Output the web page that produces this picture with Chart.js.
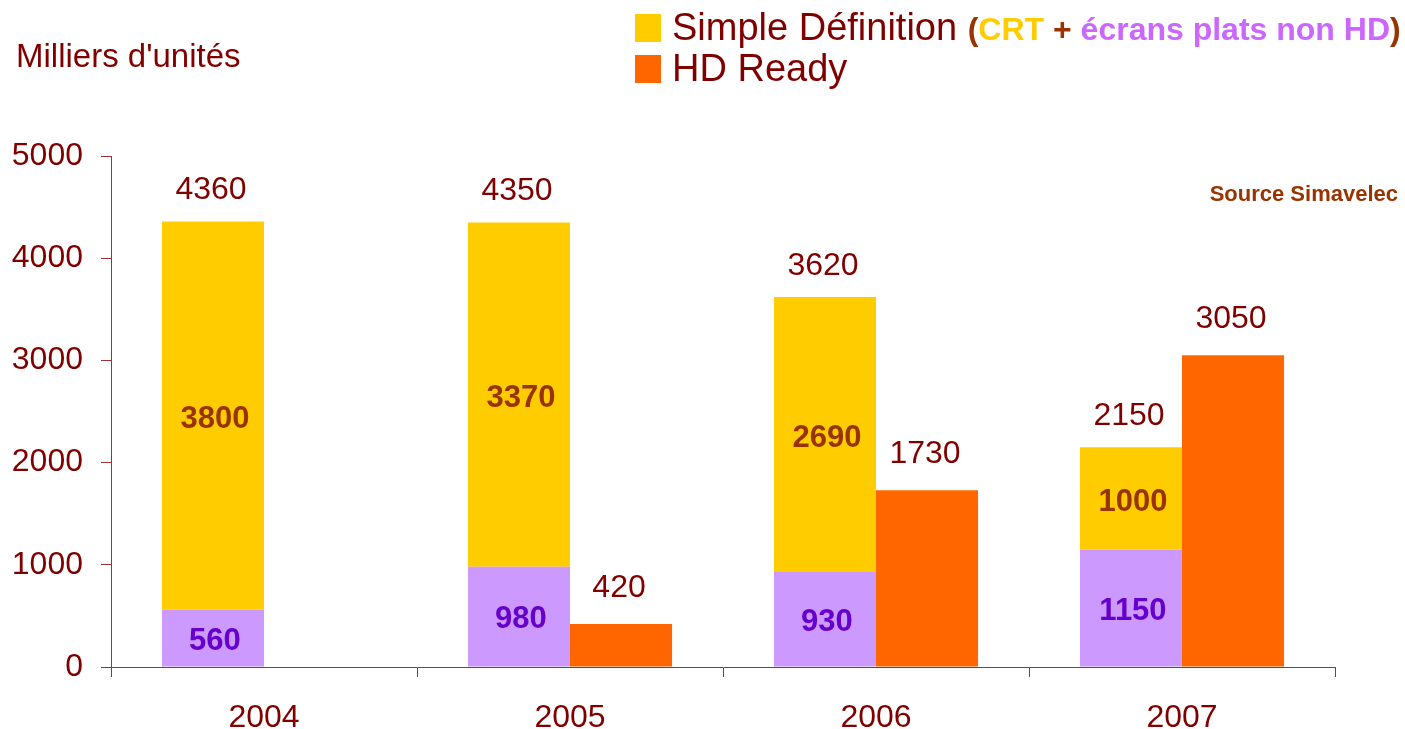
<!DOCTYPE html>
<html>
<head>
<meta charset="utf-8">
<script src="https://cdn.jsdelivr.net/npm/chart.js@4.4.0/dist/chart.umd.min.js"></script>
<style>
html,body{margin:0;padding:0;background:#fff;}
canvas{display:block;}
</style>
</head>
<body>
<canvas id="c" width="1405" height="729"></canvas>
<script>
const years = ['2004', '2005', '2006', '2007'];
const flatNonHD = [560, 980, 930, 1150];
const crt = [3800, 3370, 2690, 1000];
const hdReady = [null, 420, 1730, 3050];
const yTicks = [0, 1000, 2000, 3000, 4000, 5000];

const FONT = "'Liberation Sans', Arial, sans-serif";
const DARK = '#800000';
const AXIS = '#993333';

const labelsPlugin = {
  id: 'labelsPlugin',
  afterDatasetsDraw(chart) {
    const ctx = chart.ctx;
    const mP = chart.getDatasetMeta(0).data;
    const mY = chart.getDatasetMeta(1).data;
    const mH = chart.getDatasetMeta(2).data;
    ctx.save();
    ctx.textAlign = 'center';
    for (let i = 0; i < years.length; i++) {
      ctx.textBaseline = 'middle';
      const p = mP[i];
      ctx.font = 'bold 31px ' + FONT;
      ctx.fillStyle = '#6600CC';
      ctx.fillText(String(flatNonHD[i]), p.x + 2, (p.y + p.base) / 2 + 3);
      const y = mY[i];
      ctx.fillStyle = '#993300';
      ctx.fillText(String(crt[i]), y.x + 2, (y.y + y.base) / 2 + 4);
      ctx.font = '32px ' + FONT;
      ctx.fillStyle = DARK;
      ctx.textBaseline = 'alphabetic';
      ctx.fillText(String(flatNonHD[i] + crt[i]), y.x - 2, y.y - 22);
      if (hdReady[i] !== null) {
        const h = mH[i];
        ctx.fillText(String(hdReady[i]), h.x - 2, h.y - 27);
      }
    }
    ctx.restore();
  },
  afterDraw(chart) {
    const ctx = chart.ctx;
    ctx.save();
    ctx.textBaseline = 'alphabetic';
    ctx.textAlign = 'left';
    ctx.font = '33px ' + FONT;
    ctx.fillStyle = DARK;
    ctx.fillText("Milliers d'unités", 16, 67);
    ctx.fillStyle = '#FFCC00';
    ctx.fillRect(635, 14, 26, 28);
    ctx.fillStyle = '#FF6600';
    ctx.fillRect(635, 55, 26, 28);
    ctx.font = '38px ' + FONT;
    ctx.fillStyle = DARK;
    ctx.fillText('Simple Définition', 672, 40);
    ctx.fillText('HD Ready', 672, 81);
    let x = 672 + ctx.measureText('Simple Définition ').width;
    ctx.font = 'bold 32px ' + FONT;
    const parts = [['(', '#993300'], ['CRT', '#FFCC00'], [' + ', '#993300'], ['écrans plats non HD', '#CC66FF'], [')', '#993300']];
    for (const [t, c] of parts) {
      ctx.fillStyle = c;
      ctx.fillText(t, x, 40);
      x += ctx.measureText(t).width;
    }
    ctx.font = 'bold 22px ' + FONT;
    ctx.fillStyle = '#993300';
    ctx.textAlign = 'right';
    ctx.fillText('Source Simavelec', 1398, 201);
    ctx.restore();
  }
};

new Chart(document.getElementById('c'), {
  type: 'bar',
  data: {
    labels: years,
    datasets: [
      { label: 'écrans plats non HD', data: flatNonHD, backgroundColor: '#CC99FF', stack: 'sd' },
      { label: 'CRT', data: crt, backgroundColor: '#FFCC00', stack: 'sd' },
      { label: 'HD Ready', data: hdReady, backgroundColor: '#FF6600', stack: 'hd' }
    ]
  },
  options: {
    responsive: false,
    devicePixelRatio: 1,
    animation: false,
    categoryPercentage: 0.667,
    barPercentage: 1.0,
    layout: { padding: { top: 156, right: 70, left: 0, bottom: 0 } },
    plugins: { legend: { display: false }, tooltip: { enabled: false } },
    scales: {
      x: {
        stacked: true,
        grid: { display: true, drawOnChartArea: false, offset: true, tickLength: 10, color: AXIS, lineWidth: 1 },
        border: { display: true, color: AXIS, width: 1 },
        ticks: { color: DARK, font: { family: FONT, size: 32 }, padding: 22 },
        afterFit(s) { s.height = 62; }
      },
      y: {
        stacked: true,
        min: 0,
        max: 5000,
        grid: { display: true, drawOnChartArea: false, tickLength: 10, color: AXIS, lineWidth: 1 },
        border: { display: true, color: AXIS, width: 1 },
        ticks: {
          stepSize: 1000,
          color: DARK,
          font: { family: FONT, size: 32 },
          padding: 18,
          callback: (v) => yTicks.includes(v) ? String(v) : ''
        },
        afterFit(s) { s.width = 111; }
      }
    }
  },
  plugins: [labelsPlugin]
});
</script>
</body>
</html>
